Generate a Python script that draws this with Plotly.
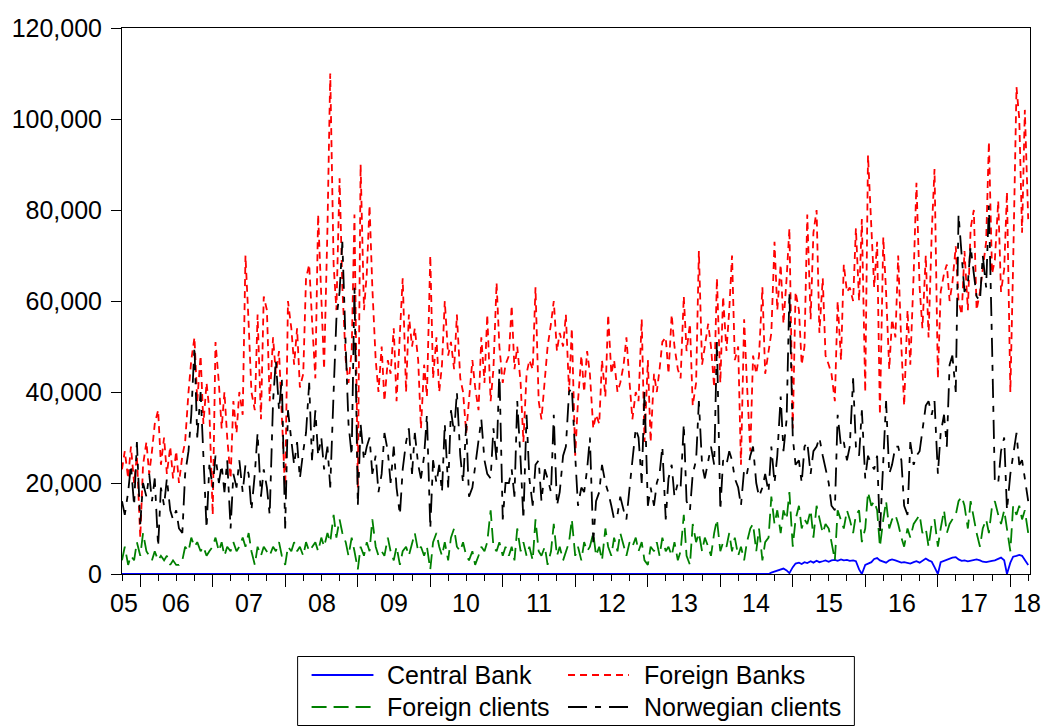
import pandas as pd
import numpy as np
import plotly.graph_objects as go

# ---------------- data (thousands of NOK/units, semi-monthly) -------------
dates = pd.date_range("2005-10-01", periods=301, freq="SMS")

foreign_banks = [
    23, 27, 21, 28, 20, 26, 8, 24, 29, 22, 27, 33, 36, 24, 30, 22, 28, 21, 27, 20, 26, 29, 40, 47, 52,
    38, 48, 33, 42, 36, 13, 51, 42, 32, 40, 30, 21, 38, 31, 40, 35, 70, 55,
    40, 36, 57, 34, 61, 58, 38, 52, 44, 49, 34, 18, 60, 54, 46, 54, 41, 44, 65, 68, 56, 43, 79, 62,
    45, 76, 110, 68, 58, 87, 63, 47, 42, 49, 79, 19, 90, 58, 66, 81, 63, 47, 40,
    50, 38, 47, 44, 54, 38, 53, 65, 40, 57, 50, 54, 47, 32, 46, 39, 70, 43, 52, 40, 46, 60, 48, 51,
    45, 57, 43, 40, 31, 39, 47, 41, 36, 52, 42, 57, 38, 45, 64, 50, 42, 46,
    48, 59, 45, 50, 42, 29, 44, 47, 45, 63, 38, 34, 42, 50, 55, 60, 49, 53, 50, 57, 40, 54, 26, 38,
    48, 40, 49, 44, 32, 35, 33, 47, 39, 57, 44, 47, 40, 42, 46, 52, 42, 34, 40,
    38, 56, 29, 47, 29, 44, 40, 45, 51, 52, 44, 57, 50, 45, 43, 61, 49, 55, 37, 42, 71, 46, 50, 55,
    50, 41, 65, 42, 61, 49, 58, 70, 47, 50, 24, 56, 42, 27, 48, 44, 48, 63, 44,
    49, 53, 73, 58, 68, 55, 65, 76, 32, 62, 58, 46, 50, 79, 56, 75, 80, 53, 65, 48, 46, 44, 38, 60,
    47, 68, 62, 63, 60, 76, 60, 78, 40, 92, 76, 63, 73, 35, 74, 62, 45, 56, 52,
    70, 50, 37, 58, 46, 66, 86, 63, 54, 70, 52, 75, 89, 43, 62, 66, 68, 60, 64, 72, 60, 57, 71, 58,
    76, 80, 58, 62, 67, 73, 95, 66, 69, 82, 62, 67, 84, 40, 68, 107, 100, 75, 102, 78,
]

norwegian_clients = [
    16, 13, 18, 24, 15, 29, 11, 20, 17, 22, 16, 21, 6, 19, 15, 21, 14, 12, 14, 10, 9, 22, 27, 35, 50,
    30, 40, 26, 10, 24, 19, 26, 20, 24, 18, 25, 10, 22, 19, 25, 18, 24, 22,
    14, 22, 31, 17, 23, 19, 13, 38, 47, 36, 43, 10, 36, 30, 24, 29, 21, 27, 31, 42, 25, 36, 26, 30,
    23, 28, 19, 40, 56, 62, 73, 50, 33, 26, 63, 15, 33, 25, 28, 30, 22, 26, 18,
    22, 31, 27, 20, 28, 19, 13, 23, 29, 32, 22, 31, 24, 21, 26, 35, 10, 25, 20, 24, 18, 33, 19, 36,
    31, 40, 26, 20, 33, 17, 19, 24, 30, 34, 25, 22, 21, 32, 25, 45, 12, 20,
    20, 23, 17, 38, 25, 12, 35, 21, 15, 24, 25, 16, 23, 21, 18, 35, 15, 18, 26, 28, 40, 41, 26, 15,
    19, 18, 23, 30, 7, 16, 18, 24, 20, 18, 15, 12, 13, 17, 14, 12, 19, 25, 32,
    30, 20, 40, 15, 19, 15, 20, 22, 28, 12, 21, 24, 17, 20, 19, 33, 16, 14, 22, 25, 38, 24, 21, 25,
    28, 24, 51, 14, 25, 24, 27, 25, 21, 19, 15, 23, 22, 26, 28, 20, 17, 19, 22,
    18, 28, 20, 26, 39, 27, 34, 62, 30, 24, 25, 20, 28, 29, 22, 27, 28, 30, 26, 23, 20, 15, 14, 35,
    28, 29, 25, 28, 43, 28, 26, 36, 21, 26, 24, 23, 26, 9, 26, 38, 22, 24, 28,
    28, 25, 15, 13, 29, 24, 26, 27, 32, 37, 38, 35, 38, 22, 31, 35, 28, 46, 48, 40, 79, 69, 62, 64,
    72, 66, 61, 60, 70, 63, 81, 50, 20, 20, 27, 30, 14, 22, 26, 31, 24, 25, 21, 16,
]

foreign_clients = [
    3, 6, 2, 4, 3, 7, 4, 9, 5, 4, 3, 5, 3, 4, 3, 4, 2, 3, 2, 2, 3, 6, 5, 8, 6,
    7, 5, 6, 4, 5, 6, 8, 5, 7, 4, 6, 5, 7, 5, 6, 8, 6, 9,
    5, 2, 6, 4, 6, 5, 4, 6, 5, 7, 4, 2, 6, 5, 7, 5, 6, 4, 7, 5, 6, 7, 5, 8,
    6, 9, 7, 13, 8, 12, 9, 7, 4, 8, 5, 1, 6, 4, 7, 5, 12, 6, 4,
    5, 4, 8, 5, 3, 6, 2, 5, 6, 4, 7, 9, 5, 6, 4, 6, 1, 7, 9, 6, 4, 7, 3, 8,
    10, 6, 5, 7, 4, 3, 5, 2, 4, 6, 5, 7, 14, 6, 5, 7, 4, 6,
    4, 6, 3, 10, 5, 7, 4, 6, 3, 12, 5, 4, 6, 2, 5, 11, 4, 6, 3, 5, 7, 12, 4, 6,
    3, 7, 5, 6, 9, 4, 6, 3, 10, 6, 4, 8, 5, 9, 6, 4, 7, 6, 8,
    5, 7, 3, 2, 6, 5, 7, 4, 8, 5, 6, 4, 7, 3, 5, 13, 4, 2, 11, 7, 9, 5, 8, 6,
    4, 9, 12, 5, 7, 6, 9, 5, 8, 4, 6, 3, 7, 10, 11, 5, 10, 3, 7,
    8, 17, 11, 14, 9, 14, 12, 18, 6, 12, 15, 10, 12, 11, 14, 8, 15, 12, 9, 11, 10, 7, 3, 14,
    12, 10, 14, 12, 9, 13, 14, 7, 10, 18, 15, 16, 14, 6, 12, 16, 10, 12, 13,
    11, 8, 6, 10, 8, 11, 12, 13, 9, 10, 6, 11, 12, 6, 10, 14, 9, 11, 12, 13, 16, 17, 15, 10,
    16, 12, 9, 6, 10, 12, 9, 15, 16, 13, 11, 14, 10, 5, 15, 13, 15, 12, 14, 9,
]

central_bank = [
    0, 0, 0, 0, 0, 0, 0, 0, 0, 0, 0, 0, 0, 0, 0, 0, 0, 0, 0, 0, 0, 0, 0, 0, 0, 0, 0, 0, 0, 0,
    0, 0, 0, 0, 0, 0, 0, 0, 0, 0, 0, 0, 0, 0, 0, 0, 0, 0, 0, 0, 0, 0, 0, 0, 0, 0, 0, 0, 0, 0,
    0, 0, 0, 0, 0, 0, 0, 0, 0, 0, 0, 0, 0, 0, 0, 0, 0, 0, 0, 0, 0, 0, 0, 0, 0, 0, 0, 0, 0, 0,
    0, 0, 0, 0, 0, 0, 0, 0, 0, 0, 0, 0, 0, 0, 0, 0, 0, 0, 0, 0, 0, 0, 0, 0, 0, 0, 0, 0, 0, 0,
    0, 0, 0, 0, 0, 0, 0, 0, 0, 0, 0, 0, 0, 0, 0, 0, 0, 0, 0, 0, 0, 0, 0, 0, 0, 0, 0, 0, 0, 0,
    0, 0, 0, 0, 0, 0, 0, 0, 0, 0, 0, 0, 0, 0, 0, 0, 0, 0, 0, 0, 0, 0, 0, 0, 0, 0, 0, 0, 0, 0,
    0, 0, 0, 0, 0, 0, 0, 0, 0, 0, 0, 0, 0, 0, 0, 0, 0, 0, 0, 0, 0, 0, 0, 0, 0, 0, 0, 0, 0, 0,
    0, 0, 0, 0,
    0, 0.3, 0.5, 0.8, 1.0, 1.2, 0.8, 0.2, 1.5, 2.3, 2.5, 2.2, 2.6, 2.4, 2.8, 2.5, 2.9, 2.6, 2.8,
    3.0, 2.7, 3.0, 3.1, 2.9, 3.2, 3.0, 3.1, 2.9, 3.0, 2.8, 1.0, 0.0, 2.0, 2.2, 2.6, 3.3, 3.5, 3.0,
    2.8, 2.5, 3.0, 3.2, 3.0,
    2.8, 2.5, 2.6, 2.4, 2.3, 2.6, 2.8, 2.5, 2.9, 3.4, 3.0, 2.7, 1.5, 0.0, 2.6, 2.9, 3.1, 3.3, 3.6,
    3.7, 3.2, 2.9, 3.0, 2.8, 2.9, 3.0, 3.2, 3.0, 2.7, 2.6, 2.8, 2.9, 3.0, 3.4, 3.6, 3.0, 0.0, 2.5,
    3.8, 4.0, 4.2, 4.0, 3.2, 2.0,
]

year_labels = ["05", "06", "07", "08", "09", "10", "11", "12", "13", "14", "15", "16", "17", "18"]
y_ticks = [0, 20000, 40000, 60000, 80000, 100000, 120000]

for s in (foreign_banks, norwegian_clients, foreign_clients, central_bank):
    assert len(s) == len(dates), len(s)

# ---------------- figure ----------------
W, H = 1045, 726
L, R, T, B = 120, 15, 28, 152
PW, PH = W - L - R, H - T - B
FONT = "Liberation Sans, Arial, sans-serif"


def pxx(px):
    return (px - L) / PW


def pxy(py):
    return (H - B - py) / PH


series = [
    ("Central Bank", central_bank, "#0000FF", "solid"),
    ("Foreign Banks", foreign_banks, "#FF0000", "7px,5px"),
    ("Foreign clients", foreign_clients, "#008000", "15px,7px"),
    ("Norwegian clients", norwegian_clients, "#000000", "19px,8px,6px,8px"),
]

fig = go.Figure()
for name, vals, color, dash in series:
    fig.add_trace(go.Scatter(
        x=dates, y=np.array(vals, dtype=float) * 1000, mode="lines", name=name,
        line=dict(color=color, width=1.8, dash=dash), showlegend=False,
    ))

shapes = []
annotations = []

# legend box
shapes.append(dict(type="rect", xref="paper", yref="paper",
                   x0=pxx(296), x1=pxx(854), y0=pxy(725.5), y1=pxy(656.5),
                   line=dict(color="black", width=1), fillcolor="white", layer="above"))
legend_pos = [(310, 372, 384, 675), (567, 628, 641, 675), (310, 372, 384, 707), (567, 628, 641, 707)]
for (name, _, color, dash), (lx0, lx1, tx, ly) in zip(series, legend_pos):
    shapes.append(dict(type="line", xref="paper", yref="paper",
                       x0=pxx(lx0), x1=pxx(lx1), y0=pxy(ly), y1=pxy(ly),
                       line=dict(color=color, width=2, dash=dash), layer="above"))
    annotations.append(dict(text=name, xref="paper", yref="paper", x=pxx(tx), y=pxy(ly),
                            xanchor="left", yanchor="middle", showarrow=False,
                            font=dict(family=FONT, size=25, color="black")))

# year labels centred in each year's span
label_dates = ["2005-10-12"] + [f"{2006 + k}-07-02" for k in range(12)] + ["2018-03-28"]
for lab, d in zip(year_labels, label_dates):
    annotations.append(dict(text=lab, xref="x", yref="paper", x=d, y=0, yshift=-29,
                            xanchor="center", yanchor="middle", showarrow=False,
                            font=dict(family=FONT, size=25, color="black")))

fig.update_layout(
    width=W, height=H,
    margin=dict(l=L, r=R, t=T, b=B, pad=0),
    paper_bgcolor="white", plot_bgcolor="white",
    font=dict(family=FONT, size=25, color="black"),
    showlegend=False,
    shapes=shapes, annotations=annotations,
    xaxis=dict(
        type="date", range=["2005-10-01", "2018-04-10"],
        showgrid=False, zeroline=False,
        showline=True, linecolor="black", linewidth=1, mirror=True,
        tick0="2006-01-01", dtick="M12", ticks="outside", ticklen=12, tickwidth=1, tickcolor="black",
        showticklabels=False,
        minor=dict(dtick="M3", tick0="2006-01-01", ticks="outside", ticklen=6, tickwidth=1,
                   tickcolor="black", showgrid=False),
    ),
    yaxis=dict(
        range=[0, 120000], tickvals=y_ticks, tickformat=",d",
        showgrid=False, zeroline=False,
        showline=True, linecolor="black", linewidth=1, mirror=True,
        ticks="outside", ticklen=10, tickwidth=1, tickcolor="black",
        tickfont=dict(family=FONT, size=25, color="black"),
        ticklabelstandoff=4,
    ),
)

fig.write_html("out.html")
